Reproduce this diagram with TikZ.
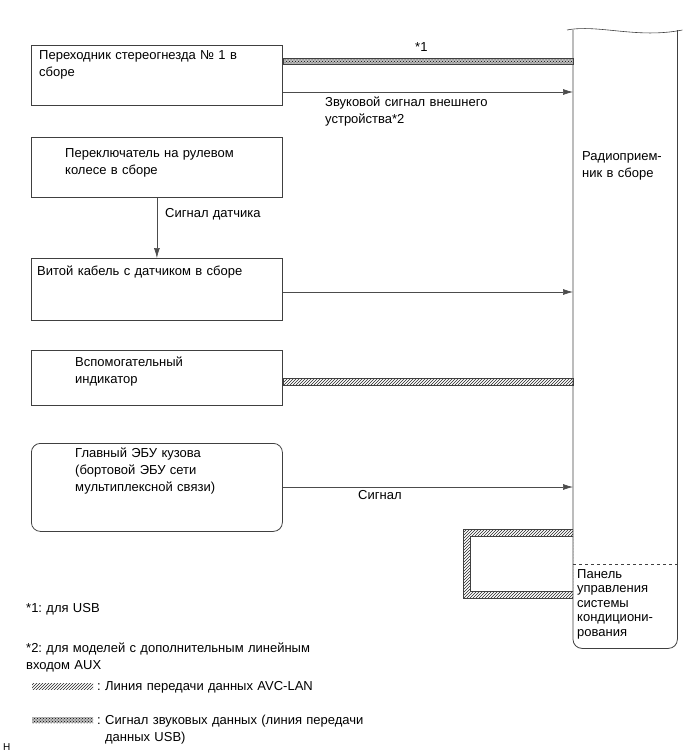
\documentclass[tikz,border=0pt]{standalone}
\usepackage{fontspec}
\setmainfont{Liberation Sans}
\usetikzlibrary{patterns,arrows.meta}

\begin{document}
\frenchspacing
\begin{tikzpicture}[x=1pt,y=-1pt,
    >={Latex[length=10pt,width=6pt]},
    blk/.style={draw=black!75,line width=0.8pt,anchor=north west,inner sep=0pt,minimum width=251pt},
    rblk/.style={blk,rounded corners=9pt},
    txt/.style={anchor=base west,inner sep=0pt,text width=300pt,align=left,font=\fontsize{13}{17}\selectfont},
    sig/.style={->,draw=black!70,line width=0.6pt},
    avc/.style={draw=black!75,line width=0.5pt,pattern=north east lines,pattern color=black!85},
    usb/.style={draw=black!75,line width=0.5pt,preaction={fill=black!25},pattern=crosshatch dots,pattern color=black}
]
    \useasboundingbox (0,0) rectangle (689,756);

    % blocks
    \node[blk,minimum height=60pt] (stereo) at (31,45) {};
    \node[blk,minimum height=60pt] (wheel) at (31,137) {};
    \node[blk,minimum height=62pt] (spiral) at (31,258) {};
    \node[blk,minimum height=55pt] (aux) at (31,350) {};
    \node[rblk,minimum height=88pt] (body) at (31,443) {};
    \node[anchor=north west,inner sep=0pt,minimum width=104pt,minimum height=618pt] (radio) at (573,30) {};

    \node[txt] (stereotxt) at (39,59) {Переходник стереогнезда № 1 в\\сборе};
    \node[txt] (wheeltxt) at (65,157) {Переключатель на рулевом\\колесе в сборе};
    \node[txt] (spiraltxt) at (37,275) {Витой кабель с датчиком в сборе};
    \node[txt] (auxtxt) at (75,366) {Вспомогательный\\индикатор};
    \node[txt] (bodytxt) at (75,457) {Главный ЭБУ кузова\\(бортовой ЭБУ сети\\мультиплексной связи)};

    % radio receiver
    \draw[draw=black!75,line width=0.8pt,rounded corners=9pt]
        (radio.north west) -- (radio.south west) -- (radio.south east) -- (radio.north east);
    \draw[draw=black!75,line width=0.6pt] ([xshift=-6pt]radio.north west)
        .. controls ([xshift=25pt,yshift=6pt]radio.north west) and ([xshift=-40pt,yshift=-9pt]radio.north east)
        .. ([xshift=5pt]radio.north east);
    \draw[draw=black!75,line width=0.6pt,dashed] (radio.west |- 0,564) -- (radio.east |- 0,564);
    \node[txt,text width=100pt] (radiotxt) at (582,160) {Радиоприем-\\ник в сборе};
    \node[txt,text width=100pt,font=\fontsize{13}{14.5}\selectfont] (paneltxt) at (577,578)
        {Панель\\управления\\системы\\кондициони-\\рования};

    % connectors
    \draw[usb] (stereo.east |- 0,58) rectangle (radio.west |- 0,64);
    \node[txt] (n1) at (415,51) {*1};
    \draw[sig] (stereo.east |- 0,92) -- (radio.west |- 0,92);
    \node[txt] (audio) at (325,106) {Звуковой сигнал внешнего\\устройства*2};
    \draw[sig] (wheel.south) -- (spiral.north);
    \node[txt] (sensor) at (165,217) {Сигнал датчика};
    \draw[sig] (spiral.east |- 0,292) -- (radio.west |- 0,292);
    \draw[avc] (aux.east |- 0,378) rectangle (radio.west |- 0,385);
    \draw[sig] (body.east |- 0,487) -- (radio.west |- 0,487);
    \node[txt] (signal) at (358,499) {Сигнал};

    % AVC-LAN loop to the A/C panel
    \path[pattern=north east lines,pattern color=black!85,even odd rule]
        (radio.west |- 0,529) -| (463,598) -- (radio.west |- 0,598) -- cycle
        (radio.west |- 0,536) -| (470,591) -- (radio.west |- 0,591) -- cycle;
    \draw[draw=black!75,line width=0.5pt] (radio.west |- 0,529) -| (463,598) -- (radio.west |- 0,598);
    \draw[draw=black!75,line width=0.5pt] (radio.west |- 0,536) -| (470,591) -- (radio.west |- 0,591);

    % legend
    \node[txt] (note1) at (26,612) {*1: для USB};
    \node[txt] (note2) at (26,652) {*2: для моделей с дополнительным линейным\\входом AUX};
    \path[pattern=north east lines,pattern color=black!85] (32,683) rectangle (93,689);
    \node[txt] (legavc) at (97,690) {: Линия передачи данных AVC-LAN};
    \path[preaction={fill=black!25},pattern=crosshatch dots,pattern color=black] (32,717) rectangle (93,723);
    \node[txt] (legusb) at (97,724) {: Сигнал звуковых данных (линия передачи\\\hphantom{: }данных USB)};
    \node[txt,font=\fontsize{10}{12}\selectfont] (code) at (3,750) {H};
\end{tikzpicture}
\end{document}
